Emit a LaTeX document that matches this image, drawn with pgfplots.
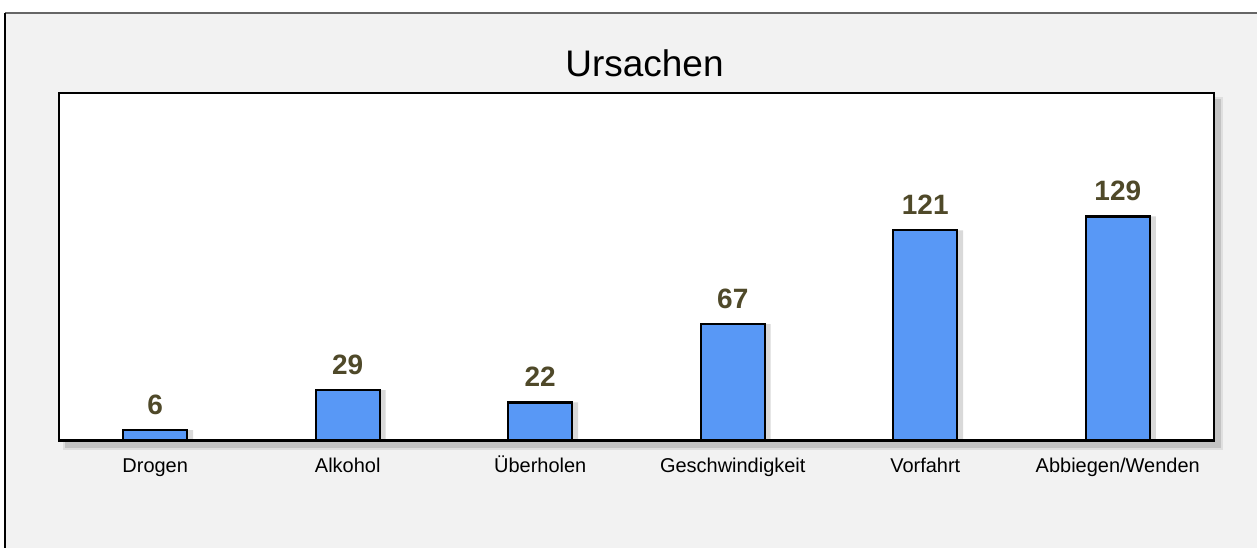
\documentclass[border=0pt]{standalone}
\usepackage{pgfplots}
\pgfplotsset{compat=1.18}
\usepackage{fontspec}
\setmainfont{Liberation Sans}
\definecolor{bgc}{RGB}{242,242,242}
\definecolor{barblue}{RGB}{88,152,246}
\definecolor{labcol}{RGB}{79,73,41}
\begin{document}
\begin{tikzpicture}[x=0.5pt,y=0.5pt]
\fill[white] (0,0) rectangle (1258,-548);
\fill[bgc] (5,-13) rectangle (1258,-548);
\draw[gray!80!black,line width=1pt] (5,-13) -- (1258,-13);
\draw[black,line width=1pt] (5,-13) -- (5,-548);
\node[font=\fontsize{18.5}{20}\selectfont] at (645,-63) {Ursachen};
% shadow of the plot area
\fill[black,opacity=0.12] (65,-99) rectangle (1222,-448);
\fill[black,opacity=0.08] (63,-97) rectangle (1224,-450);
\begin{axis}[
  at={(29.5pt,-220.5pt)}, anchor=south west,
  scale only axis,
  width=578pt, height=174pt,
  xmin=-0.5, xmax=5.5, ymin=0, ymax=200,
  axis background/.style={fill=white},
  axis line style={black,line width=1.2pt},
  ytick=\empty,
  xtick=data,
  xticklabels={Drogen,Alkohol,Überholen,Geschwindigkeit,Vorfahrt,Abbiegen/Wenden},
  typeset ticklabels with strut,
  x tick label style={font=\fontsize{10}{12}\selectfont, yshift=-4pt},
  major tick length=0pt,
  ybar, bar width=32pt,
  /pgf/number format/assume math mode=true,
  clip=false,
]
\addplot[bar shift=3pt, fill=black, opacity=0.15, draw=none]
  coordinates {(0,6) (1,29) (2,22) (3,67) (4,121) (5,129)};
\addplot[bar shift=0pt, draw=black, line width=1.2pt, fill=barblue,
  nodes near coords={\textbf{\pgfmathprintnumber{\pgfplotspointmeta}}},
  every node near coord/.append style={font=\fontsize{14}{16}\selectfont, text=labcol, yshift=4pt}]
  coordinates {(0,6) (1,29) (2,22) (3,67) (4,121) (5,129)};
\end{axis}
\end{tikzpicture}
\end{document}
